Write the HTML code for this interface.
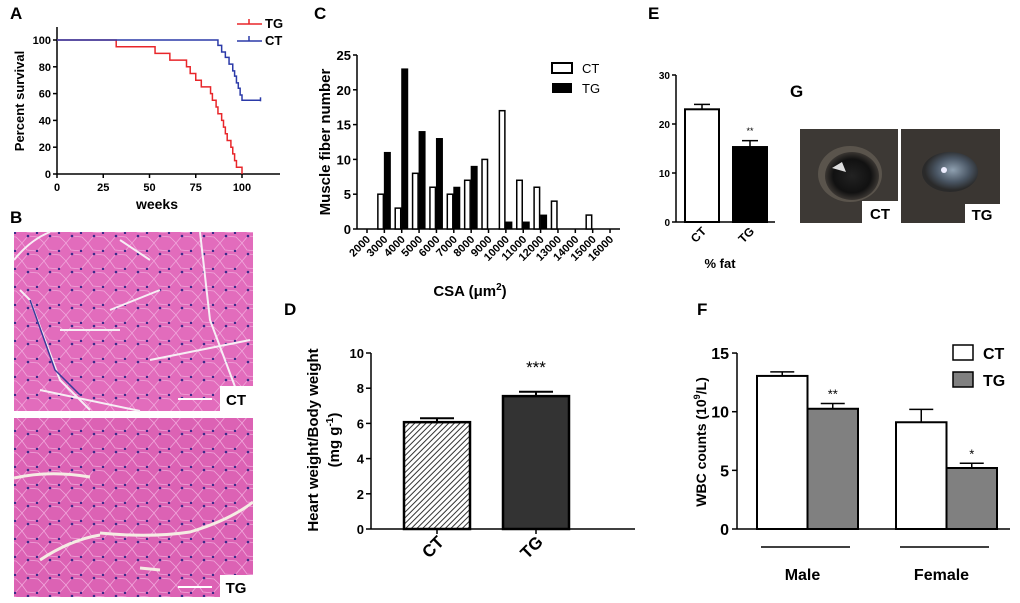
<!DOCTYPE html>
<html><head><meta charset="utf-8"><style>
body{margin:0;background:#fff}
svg{display:block;font-family:"Liberation Sans",Arial,sans-serif}
</style></head><body>
<svg id="fig" width="1020" height="603" viewBox="0 0 1020 603">
<defs>
<pattern id="hatch" width="4" height="4" patternUnits="userSpaceOnUse" patternTransform="rotate(45)">
<rect width="4" height="4" fill="#fff"/><line x1="0" y1="0" x2="0" y2="4" stroke="#333" stroke-width="2"/>
</pattern>
<pattern id="cells" width="22" height="18" patternUnits="userSpaceOnUse">
<path d="M0 9 L6 2 L16 3 L22 9 L15 17 L5 16 Z" fill="none" stroke="#f0a6da" stroke-width="0.8"/>
<circle cx="6" cy="2" r="1.3" fill="#3a2a8a"/><circle cx="15" cy="17" r="1.2" fill="#3a2a8a"/>
</pattern>
<radialGradient id="eye1" cx="50%" cy="50%" r="50%"><stop offset="0" stop-color="#222"/><stop offset="0.7" stop-color="#111"/><stop offset="1" stop-color="#3a3632"/></radialGradient>
<radialGradient id="eye2" cx="55%" cy="45%" r="50%"><stop offset="0" stop-color="#8fa0b0"/><stop offset="0.6" stop-color="#4a5664"/><stop offset="1" stop-color="#2a2a2a"/></radialGradient>
</defs>
<g font-weight="bold" font-size="17">
<text x="10" y="19">A</text>
<text x="10" y="223">B</text>
<text x="314" y="19">C</text>
<text x="648" y="19">E</text>
<text x="790" y="97">G</text>
<text x="284" y="315">D</text>
<text x="697" y="315">F</text>
</g>
<g>
<rect x="14" y="232" width="239" height="179" fill="#e26cbc"/>
<rect x="14" y="232" width="239" height="179" fill="url(#cells)"/>
<path d="M14 260 Q30 240 50 232 M20 290 L30 300 L60 380 L90 410 M60 330 L120 330 M110 310 L160 290 M150 360 L250 340 M40 390 L140 411 M200 232 L210 320 L240 400 M120 240 L150 260" stroke="#f7eef5" stroke-width="2" fill="none"/>
<path d="M30 300 L55 370 L80 395" stroke="#3a3a9a" stroke-width="1.5" fill="none"/>
<rect x="220" y="386" width="33" height="25" fill="#fff"/>
<text x="236" y="405" font-size="15" font-weight="bold" text-anchor="middle">CT</text>
<rect x="178" y="398" width="34" height="2" fill="#fff"/>
</g>
<g>
<rect x="14" y="418" width="239" height="179" fill="#dc62b4"/>
<rect x="14" y="418" width="239" height="179" fill="url(#cells)"/>
<path d="M14 478 Q50 470 90 477 M100 533 Q150 538 190 532 Q230 520 253 502 M40 560 Q70 540 100 535 M140 568 L160 570" stroke="#f5ece4" stroke-width="3" fill="none"/>
<rect x="220" y="575" width="33" height="22" fill="#fff"/>
<text x="236" y="593" font-size="15" font-weight="bold" text-anchor="middle">TG</text>
<rect x="178" y="586" width="34" height="2" fill="#fff"/>
</g>
<g>
<rect x="800" y="129" width="98" height="94" fill="#3d3935"/>
<ellipse cx="850" cy="174" rx="32" ry="28" fill="#5a544c"/>
<ellipse cx="852" cy="176" rx="27" ry="24" fill="url(#eye1)"/>
<path d="M832 168 L842 162 L846 172 Z" fill="#ddd"/>
<rect x="862" y="201" width="36" height="22" fill="#fff"/>
<text x="880" y="219" font-size="15" font-weight="bold" text-anchor="middle">CT</text>
</g>
<g>
<rect x="901" y="129" width="99" height="94" fill="#3a3632"/>
<ellipse cx="950" cy="172" rx="28" ry="20" fill="url(#eye2)"/>
<circle cx="944" cy="170" r="3" fill="#eef"/>
<rect x="965" y="204" width="35" height="19" fill="#fff"/>
<text x="982" y="220" font-size="15" font-weight="bold" text-anchor="middle">TG</text>
</g>
<g id="charts"></g>
</svg>
<script>
// Panel A data
const tgWeeks=[0,32,53,61,70,72,75,78,83,84,86,87,89,90,91,92,94,95,96,97,100];
const tgSurv=[100,95,90,85,80,75,70,65,60,55,50,45,40,35,30,25,20,15,10,5,0];
const ctWeeks=[0,87,89,91,93,95,96,97,98,99,100,110];
const ctSurv=[100,96,91,87,82,77,73,68,64,59,55,55];
const aXTicks=[0,25,50,75,100];
const aYTicks=[0,20,40,60,80,100];
// Panel C data
const cCats=[2000,3000,4000,5000,6000,7000,8000,9000,10000,11000,12000,13000,14000,15000,16000];
const cCT=[0,5,3,8,6,5,7,10,17,7,6,4,0,2,0];
const cTG=[0,11,23,14,13,6,9,0,1,1,2,0,0,0,0];
const cYTicks=[0,5,10,15,20,25];
// Panel E data
const eCats=["CT","TG"];
const eVals=[23,15.3];
const eErr=[1,1.3];
const eYTicks=[0,10,20,30];
// Panel D data
const dCats=["CT","TG"];
const dVals=[6.07,7.55];
const dErr=[0.22,0.25];
const dYTicks=[0,2,4,6,8,10];
// Panel F data
const fGroups=["Male","Female"];
const fCT=[13.05,9.1];
const fTG=[10.25,5.2];
const fCTErr=[0.35,1.1];
const fTGErr=[0.45,0.4];
const fYTicks=[0,5,10,15];

const NS="http://www.w3.org/2000/svg";
const root=document.getElementById('charts');
function mk(tag,attrs,parent,txt){const e=document.createElementNS(NS,tag);for(const k in attrs)e.setAttribute(k,attrs[k]);if(txt!==undefined)e.textContent=txt;(parent||root).appendChild(e);return e;}

// ---------- Panel A ----------
(function(){
const g=mk('g',{});


const X=w=>57+w*1.85, Y=v=>174-v*1.34;
const ya=mk('line',{x1:57,y1:27,x2:57,y2:174,stroke:'#000','stroke-width':1.5},g);

const xa=mk('line',{x1:57,y1:174,x2:280,y2:174,stroke:'#000','stroke-width':1.5},g);

aYTicks.forEach(v=>{mk('line',{x1:53,x2:57,y1:Y(v),y2:Y(v),stroke:'#000','stroke-width':1.5},g);
const t=mk('text',{x:51,y:Y(v)+4,'font-size':11,'font-weight':'bold','text-anchor':'end'},g,v);
});
aXTicks.forEach(v=>{mk('line',{x1:X(v),x2:X(v),y1:174,y2:178,stroke:'#000','stroke-width':1.5},g);
const t=mk('text',{x:X(v),y:191,'font-size':11,'font-weight':'bold','text-anchor':'middle'},g,v);
});
function step(ws,vs){let d=`M${X(ws[0])} ${Y(vs[0])}`;for(let i=1;i<ws.length;i++){d+=` H${X(ws[i])} V${Y(vs[i])}`;}return d;}
const tg=mk('path',{d:step(tgWeeks,tgSurv),fill:'none',stroke:'#e8262a','stroke-width':1.5},g);

const ct=mk('path',{d:step(ctWeeks,ctSurv),fill:'none',stroke:'#2b3aa8','stroke-width':1.5},g);

mk('line',{x1:X(110),x2:X(110),y1:Y(55)-3,y2:Y(55)+1,stroke:'#2b3aa8','stroke-width':1.5},g);
const lg=mk('g',{},g);
mk('path',{d:'M237 24 H262 M249 19 V24',stroke:'#e8262a','stroke-width':1.5,fill:'none'},lg);
mk('text',{x:265,y:28,'font-size':13,'font-weight':'bold'},lg,'TG');
mk('path',{d:'M237 41 H262 M249 41 V36',stroke:'#2b3aa8','stroke-width':1.5,fill:'none'},lg);
mk('text',{x:265,y:45,'font-size':13,'font-weight':'bold'},lg,'CT');
const xt=mk('text',{x:157,y:209,'font-size':14,'font-weight':'bold','text-anchor':'middle'},g,'weeks');

const yt=mk('text',{x:0,y:0,'font-size':13,'font-weight':'bold','text-anchor':'middle',transform:'translate(24,101) rotate(-90)'},g,'Percent survival');

})();

// ---------- Panel C ----------
(function(){
const g=mk('g',{});


const Y=v=>229-v*6.96, X=i=>367+i*17.36;
mk('line',{x1:357,y1:55,x2:357,y2:229,stroke:'#000','stroke-width':1.5},g);
mk('line',{x1:357,y1:229,x2:620,y2:229,stroke:'#000','stroke-width':1.5},g);
cYTicks.forEach(v=>{mk('line',{x1:353,x2:357,y1:Y(v),y2:Y(v),stroke:'#000','stroke-width':1.5},g);
const t=mk('text',{x:351,y:Y(v)+5,'font-size':13,'font-weight':'bold','text-anchor':'end'},g,v);
});
cCats.forEach((c,i)=>{const x=X(i);mk('line',{x1:x,x2:x,y1:229,y2:233,stroke:'#000','stroke-width':1.5},g);
const t=mk('text',{x:0,y:0,'font-size':11,'font-weight':'bold','text-anchor':'end',transform:`translate(${x+4},${240}) rotate(-45)`},g,c);

if(cCT[i]>0){const b=mk('rect',{x:x-6.5,y:Y(cCT[i]),width:5.5,height:cCT[i]*6.96,fill:'#fff',stroke:'#000','stroke-width':1.5},g);
}
if(cTG[i]>0){const b=mk('rect',{x:x,y:Y(cTG[i]),width:6,height:cTG[i]*6.96,fill:'#000',stroke:'#000','stroke-width':1},g);
}
});
const lg=mk('g',{},g);
mk('rect',{x:552,y:63,width:20,height:10,fill:'#fff',stroke:'#000','stroke-width':2},lg);
mk('text',{x:582,y:73,'font-size':13},lg,'CT');
mk('rect',{x:552,y:83,width:20,height:10,fill:'#000'},lg);
mk('text',{x:582,y:93,'font-size':13},lg,'TG');
const xt=mk('text',{x:470,y:296,'font-size':15,'font-weight':'bold','text-anchor':'middle'},g);
xt.innerHTML='CSA (μm<tspan dy="-6" font-size="10">2</tspan><tspan dy="6">)</tspan>';

const yt=mk('text',{x:0,y:0,'font-size':15,'font-weight':'bold','text-anchor':'middle',transform:'translate(330,142) rotate(-90)'},g,'Muscle fiber number');

})();

// ---------- Panel E ----------
(function(){
const g=mk('g',{});


const Y=v=>222-v*4.9;
mk('line',{x1:676,y1:75,x2:676,y2:222,stroke:'#000','stroke-width':1.5},g);
mk('line',{x1:676,y1:222,x2:775,y2:222,stroke:'#000','stroke-width':1.5},g);
eYTicks.forEach(v=>{mk('line',{x1:672,x2:676,y1:Y(v),y2:Y(v),stroke:'#000','stroke-width':1.5},g);
const t=mk('text',{x:670,y:Y(v)+4,'font-size':10,'font-weight':'bold','text-anchor':'end'},g,v);
});
const xs=[685,733];
eCats.forEach((c,i)=>{const x=xs[i],w=34,top=Y(eVals[i]);
mk('line',{x1:x+w/2,x2:x+w/2,y1:Y(eVals[i]+eErr[i]),y2:top,stroke:'#000','stroke-width':1.5},g);
mk('line',{x1:x+w/2-8,x2:x+w/2+8,y1:Y(eVals[i]+eErr[i]),y2:Y(eVals[i]+eErr[i]),stroke:'#000','stroke-width':1.5},g);
const b=mk('rect',{x:x,y:top,width:w,height:eVals[i]*4.9,fill:i?'#000':'#fff',stroke:'#000','stroke-width':2},g);

const t=mk('text',{x:0,y:0,'font-size':12,'font-weight':'bold','text-anchor':'end',transform:`translate(${x+w/2+5},${232}) rotate(-45)`},g,c);
});
mk('text',{x:750,y:134,'font-size':9,'text-anchor':'middle'},g,'**');
const xt=mk('text',{x:720,y:268,'font-size':13,'font-weight':'bold','text-anchor':'middle'},g,'% fat');

})();

// ---------- Panel D ----------
(function(){
const g=mk('g',{});


const Y=v=>529-v*17.6;
mk('line',{x1:371,y1:353,x2:371,y2:529,stroke:'#000','stroke-width':1.5},g);
mk('line',{x1:371,y1:529,x2:635,y2:529,stroke:'#000','stroke-width':1.5},g);
dYTicks.forEach(v=>{mk('line',{x1:366,x2:371,y1:Y(v),y2:Y(v),stroke:'#000','stroke-width':1.5},g);
const t=mk('text',{x:364,y:Y(v)+5,'font-size':13,'font-weight':'bold','text-anchor':'end'},g,v);
});
const xs=[404,503];
dCats.forEach((c,i)=>{const x=xs[i],w=66,top=Y(dVals[i]),cx=x+w/2;
mk('line',{x1:cx,x2:cx,y1:Y(dVals[i]+dErr[i]),y2:top,stroke:'#000','stroke-width':2},g);
mk('line',{x1:cx-17,x2:cx+17,y1:Y(dVals[i]+dErr[i]),y2:Y(dVals[i]+dErr[i]),stroke:'#000','stroke-width':2},g);
const b=mk('rect',{x:x,y:top,width:w,height:dVals[i]*17.6,fill:i?'#333':'url(#hatch)',stroke:'#000','stroke-width':2.5},g);

mk('line',{x1:cx,x2:cx,y1:529,y2:534,stroke:'#000','stroke-width':1.5},g);
const t=mk('text',{x:0,y:0,'font-size':17,'font-weight':'bold','text-anchor':'end',transform:`translate(${cx+8},${543}) rotate(-45)`},g,c);
});
mk('text',{x:536,y:373,'font-size':17,'text-anchor':'middle'},g,'***');
const yt=mk('text',{x:0,y:0,'font-size':15,'font-weight':'bold','text-anchor':'middle',transform:'translate(318,440) rotate(-90)'},g,'Heart weight/Body weight');

const yt2=mk('text',{x:0,y:0,'font-size':15,'font-weight':'bold','text-anchor':'middle',transform:'translate(339,440) rotate(-90)'},g);
yt2.innerHTML='(mg g<tspan dy="-6" font-size="10">-1</tspan><tspan dy="6">)</tspan>';

})();

// ---------- Panel F ----------
(function(){
const g=mk('g',{});


const K=11.73, Y=v=>529-v*K;
mk('line',{x1:737,y1:353,x2:737,y2:529,stroke:'#000','stroke-width':1.5},g);
mk('line',{x1:737,y1:529,x2:1010,y2:529,stroke:'#000','stroke-width':1.5},g);
fYTicks.forEach(v=>{mk('line',{x1:732,x2:737,y1:Y(v),y2:Y(v),stroke:'#000','stroke-width':1.5},g);
const t=mk('text',{x:729,y:Y(v)+6,'font-size':16,'font-weight':'bold','text-anchor':'end'},g,v);
});
const gx=[757,896],w=50.5,stars=['**','*'];
fGroups.forEach((gname,i)=>{
const x=gx[i];
[[fCT[i],fCTErr[i],'#fff','bar-ct-'],[fTG[i],fTGErr[i],'#808080','bar-tg-']].forEach((s,j)=>{
const bx=x+j*w,cx=bx+w/2;
mk('line',{x1:cx,x2:cx,y1:Y(s[0]+s[1]),y2:Y(s[0]),stroke:'#000','stroke-width':1.5},g);
mk('line',{x1:cx-12,x2:cx+12,y1:Y(s[0]+s[1]),y2:Y(s[0]+s[1]),stroke:'#000','stroke-width':1.5},g);
const b=mk('rect',{x:bx,y:Y(s[0]),width:w,height:s[0]*K,fill:s[2],stroke:'#000','stroke-width':2},g);

});
const st=mk('text',{x:x+w*1.5,y:Y(fTG[i]+fTGErr[i])-5,'font-size':13,'text-anchor':'middle'},g,stars[i]);

mk('line',{x1:x+4,x2:x+2*w-8,y1:547,y2:547,stroke:'#000','stroke-width':1.5},g);
const t=mk('text',{x:x+w-5,y:580,'font-size':16,'font-weight':'bold','text-anchor':'middle'},g,gname);
});
const lg=mk('g',{},g);
mk('rect',{x:953,y:345,width:20,height:15,fill:'#fff',stroke:'#000','stroke-width':1.5},lg);
mk('text',{x:983,y:359,'font-size':16,'font-weight':'bold'},lg,'CT');
mk('rect',{x:953,y:372,width:20,height:15,fill:'#808080',stroke:'#000','stroke-width':1.5},lg);
mk('text',{x:983,y:386,'font-size':16,'font-weight':'bold'},lg,'TG');
const yt=mk('text',{x:0,y:0,'font-size':14,'font-weight':'bold','text-anchor':'middle',transform:'translate(706,442) rotate(-90)'},g);
yt.innerHTML='WBC counts (10<tspan dy="-6" font-size="9">9</tspan><tspan dy="6">/L)</tspan>';

})();
</script>
</body></html>
